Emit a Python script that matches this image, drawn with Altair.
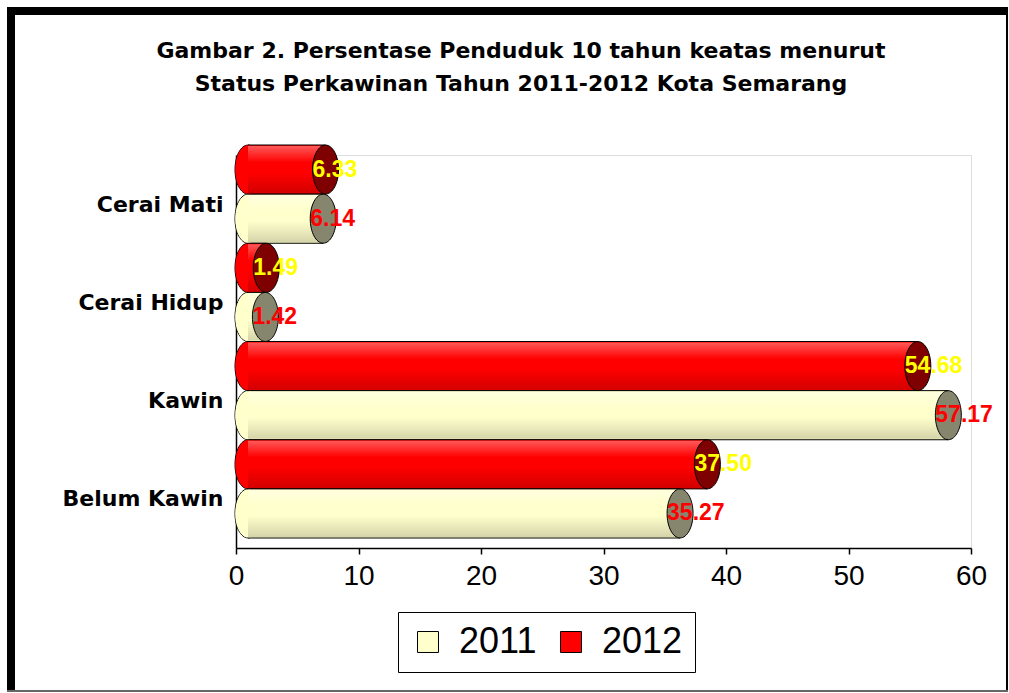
import json
import altair as alt
import pandas as pd

# ---- data ----
categories = ["Cerai Mati", "Cerai Hidup", "Kawin", "Belum Kawin"]
values_2011 = [6.14, 1.42, 57.17, 35.27]
values_2012 = [6.33, 1.49, 54.68, 37.50]
years = ["2011", "2012"]
x_ticks = [0, 10, 20, 30, 40, 50, 60]
title_lines = [
    "Gambar 2. Persentase Penduduk 10 tahun keatas menurut",
    "Status Perkawinan Tahun 2011-2012 Kota Semarang",
]

body_colors = {"2011": "#FFFFCC", "2012": "#FF0000"}
cap_colors = {"2011": "#86866E", "2012": "#7E0000"}
label_colors = {"2011": "#FF0000", "2012": "#FFFF00"}

rows = []
for i, c in enumerate(categories):
    for yr, vals in (("2012", values_2012), ("2011", values_2011)):
        rows.append(dict(category=c, idx=i, year=yr, value=vals[i],
                         slot=0 if yr == "2012" else 1,
                         body=body_colors[yr], cap=cap_colors[yr],
                         lab=label_colors[yr]))
df = pd.DataFrame(rows)

W, H = 735, 393
L, T = 236, 155
DX, DY = 12, -10  # 3-D depth shift

base = alt.Chart(df).transform_calculate(
    y0="datum.idx + datum.slot * 0.5",
    y1="datum.idx + datum.slot * 0.5 + 0.5",
    yc="datum.idx + datum.slot * 0.5 + 0.25",
    label="format(datum.value, '.2f')",
)

xscale = alt.Scale(domain=[0, 60], nice=False, zero=True)
yscale = alt.Scale(domain=[0, 4], reverse=True, nice=False, zero=False)

label_expr = json.dumps(categories) + "[floor(datum.value)]"

xaxis = alt.Axis(values=x_ticks, grid=False, title=None, labelFont="Liberation Sans",
                 labelFontSize=28, labelColor="black", tickColor="black", tickSize=6,
                 tickWidth=1.5, domainColor="black", domainWidth=1.5, labelPadding=8,
                 labelFlush=False)
yaxis = alt.Axis(values=[0.5, 1.5, 2.5, 3.5], labelExpr=label_expr, grid=False, title=None,
                 ticks=False, labelFont="DejaVu Sans", labelFontWeight="bold",
                 labelFontSize=22, labelColor="black", domainColor="black",
                 domainWidth=1.5, labelPadding=13)

legend = alt.Legend(orient="none", legendX=162, legendY=457, direction="horizontal",
                    title=None, symbolType="square", symbolSize=440,
                    symbolStrokeColor="black", symbolStrokeWidth=1,
                    labelFont="Liberation Sans", labelFontSize=36, labelColor="black",
                    strokeColor="black", fillColor="white", padding=12,
                    labelOffset=13, columnPadding=16)

ellipse = "M 0 -1 A 0.53 1 0 1 1 0 1 A 0.53 1 0 1 1 0 -1 Z"

left_cap = base.mark_point(shape=ellipse, size=2401, filled=True, opacity=1,
                           stroke="black", strokeWidth=1, xOffset=DX, yOffset=DY).encode(
    x=alt.datum(0),
    y=alt.Y("yc:Q", scale=yscale),
    fill=alt.Fill("body:N", scale=None),
)
left_cap_fill = base.mark_point(shape=ellipse, size=2300, filled=True, opacity=1,
                                strokeWidth=0, xOffset=DX, yOffset=DY).encode(
    x=alt.datum(0),
    y=alt.Y("yc:Q", scale=yscale),
    fill=alt.Fill("body:N", scale=None),
)

body = base.mark_bar(xOffset=DX, x2Offset=DX, yOffset=DY, y2Offset=DY,
                     stroke="black", strokeWidth=1).encode(
    x=alt.X("value:Q", scale=xscale, axis=xaxis),
    x2=alt.datum(0),
    y=alt.Y("y0:Q", scale=yscale, axis=yaxis),
    y2="y1:Q",
    color=alt.Color("year:N", scale=alt.Scale(domain=years,
                    range=[body_colors["2011"], body_colors["2012"]]), legend=legend),
)

shade = base.mark_bar(
    xOffset=DX, x2Offset=DX, yOffset=DY + 1, y2Offset=DY - 1, strokeWidth=0,
    fill=alt.Gradient(gradient="linear", x1=0, y1=0, x2=0, y2=1, stops=[
        alt.GradientStop(color="rgba(255,255,255,0.35)", offset=0),
        alt.GradientStop(color="rgba(255,255,255,0.0)", offset=0.35),
        alt.GradientStop(color="rgba(0,0,0,0.0)", offset=0.55),
        alt.GradientStop(color="rgba(0,0,0,0.17)", offset=1),
    ])).encode(
    x=alt.X("value:Q", scale=xscale),
    x2=alt.datum(0),
    y=alt.Y("y0:Q", scale=yscale),
    y2="y1:Q",
)

right_cap = base.mark_point(shape=ellipse, size=2401, filled=True, opacity=1,
                            stroke="black", strokeWidth=1, xOffset=DX, yOffset=DY).encode(
    x=alt.X("value:Q", scale=xscale),
    y=alt.Y("yc:Q", scale=yscale),
    fill=alt.Fill("cap:N", scale=None),
)

labels = base.mark_text(align="left", baseline="middle", font="Liberation Sans",
                        fontSize=23, fontWeight="bold", dx=-1, dy=DY).encode(
    x=alt.X("value:Q", scale=xscale),
    y=alt.Y("yc:Q", scale=yscale),
    text="label:N",
    color=alt.Color("lab:N", scale=None),
)

frame_df = pd.DataFrame({"k": [0]})
fr = alt.Chart(frame_df)
frame_top = fr.mark_rule(color="black", strokeWidth=8).encode(
    x=alt.value(7 - L), x2=alt.value(1008 - L), y=alt.value(11 - T))
frame_left = fr.mark_rule(color="black", strokeWidth=8).encode(
    x=alt.value(11 - L), y=alt.value(7 - T), y2=alt.value(692 - T))
frame_right = fr.mark_rule(color="black", strokeWidth=2).encode(
    x=alt.value(1007 - L), y=alt.value(7 - T), y2=alt.value(692 - T))
frame_bottom = fr.mark_rule(color="#666666", strokeWidth=2).encode(
    x=alt.value(7 - L), x2=alt.value(1008 - L), y=alt.value(691 - T))

title1 = fr.mark_text(font="DejaVu Sans", fontSize=22, fontWeight="bold", color="black",
                      align="center", baseline="alphabetic", text=title_lines[0]).encode(
    x=alt.value(521 - L), y=alt.value(58 - T))
title2 = fr.mark_text(font="DejaVu Sans", fontSize=22, fontWeight="bold", color="black",
                      align="center", baseline="alphabetic", text=title_lines[1]).encode(
    x=alt.value(521 - L), y=alt.value(91 - T))

chart = alt.layer(
    left_cap, body, left_cap_fill, shade, right_cap, labels,
    frame_top, frame_left, frame_right, frame_bottom, title1, title2,
).properties(
    width=W, height=H,
    autosize=alt.AutoSizeParams(type="none"),
    padding={"left": L, "top": T, "right": 1009 - L - W, "bottom": 693 - T - H},
).configure_view(stroke="black", strokeWidth=1.5).configure(background="white")

chart.save("out.html", embed_options={"renderer": "svg", "actions": False})
